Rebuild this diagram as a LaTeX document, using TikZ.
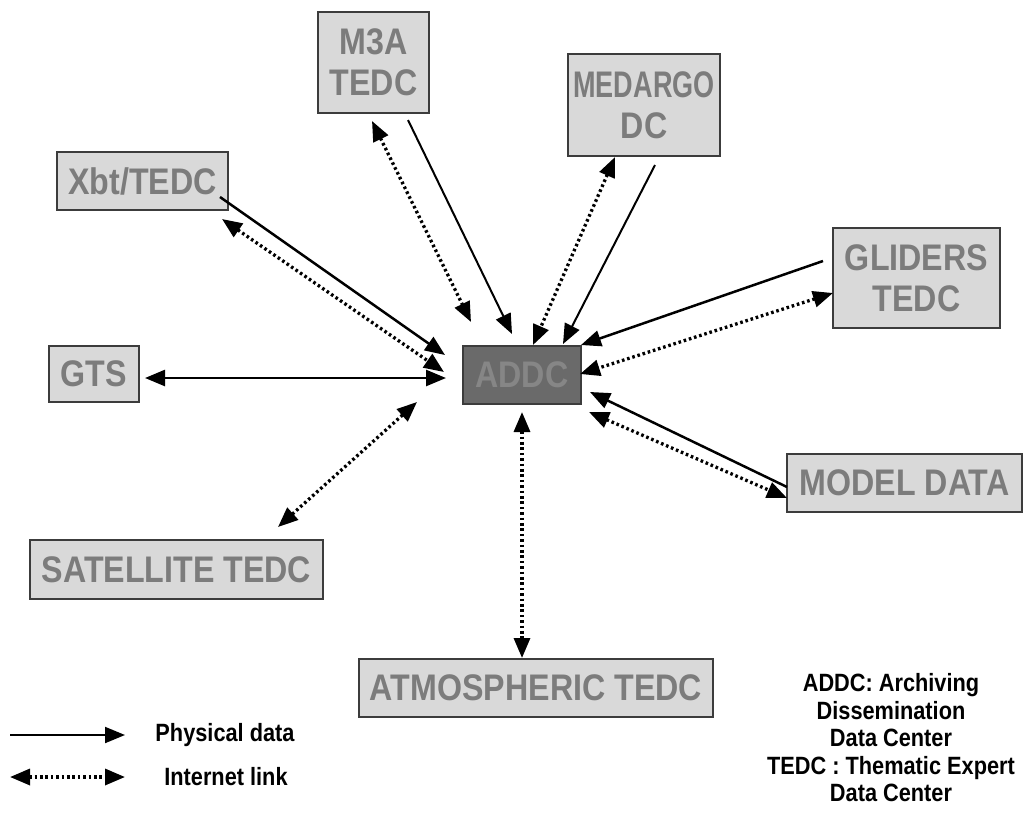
\documentclass[tikz,border=0pt]{standalone}
\usepackage{fontspec}
\usepackage{graphicx}
\usetikzlibrary{arrows.meta}
\newfontfamily\bxf[FakeStretch=0.87]{Liberation Sans}
\definecolor{boxfill}{HTML}{D9D9D9}
\definecolor{boxline}{HTML}{3C3C3C}
\definecolor{boxtext}{HTML}{7C7C7C}
\definecolor{addcfill}{HTML}{6A6A6A}
\definecolor{addctext}{HTML}{868686}
\tikzset{
  box/.style={draw=boxline, line width=2pt, fill=boxfill, text=boxtext,
    font=\bxf\bfseries\fontsize{37}{41}\selectfont, align=center, inner sep=0pt},
  centre/.style={box, fill=addcfill, text=addctext},
  legtext/.style={font=\bxf\bfseries\fontsize{25}{27.5}\selectfont, text=black, align=center, inner sep=0pt},
  tip/.style={Triangle[length=20pt,width=16pt]},
  phys/.style={line width=2.5pt, -{Triangle[length=20pt,width=16pt]}},
  physboth/.style={line width=2.5pt, {Triangle[length=20pt,width=16pt]}-{Triangle[length=20pt,width=16pt]}},
  net/.style={line width=3.3pt, dash pattern=on 2.6pt off 2.8pt,
    {Triangle[length=20pt,width=16pt]}-{Triangle[length=20pt,width=16pt]}}
}
\begin{document}
\begin{tikzpicture}[x=1pt,y=-1pt]
\useasboundingbox[fill=white] (0,0) rectangle (1023,812);
% boxes
\node[box, minimum width=111pt, minimum height=101pt] (m3a) at (373.5,62.5) {M3A\\TEDC};
\node[box, minimum width=152pt, minimum height=102pt] (medargo) at (644,105) {\scalebox{0.84}[1]{MEDARGO}\\DC};
\node[box, minimum width=171pt, minimum height=58pt] (xbt) at (142.5,181) {Xbt/TEDC};
\node[box, minimum width=90pt, minimum height=56pt] (gts) at (94,374) {GTS};
\node[centre, minimum width=118pt, minimum height=58pt] (addc) at (522,375) {ADDC};
\node[box, minimum width=167pt, minimum height=100pt] (gliders) at (916.5,278) {GLIDERS\\TEDC};
\node[box, minimum width=235pt, minimum height=58pt] (model) at (904.5,483) {MODEL DATA};
\node[box, minimum width=293pt, minimum height=59pt] (sat) at (176.5,569.5) {SATELLITE TEDC};
\node[box, minimum width=354pt, minimum height=58pt] (atm) at (536,688) {ATMOSPHERIC TEDC};
% connector end points
\coordinate (xbtA) at (220,197);   \coordinate (addcA) at (445,355);
\coordinate (xbtB) at (222,219);   \coordinate (addcB) at (444,372);
\coordinate (gtsC) at (145,378);   \coordinate (addcC) at (446,378);
\coordinate (satD) at (278,527);   \coordinate (addcD) at (417,402);
\coordinate (addcE) at (522,412);  \coordinate (atmE) at (522,658);
\coordinate (modelF) at (787,487); \coordinate (addcF) at (590,392);
\coordinate (addcG) at (589,412);  \coordinate (modelG) at (787,498);
\coordinate (glidH) at (823,261);  \coordinate (addcH) at (581,345);
\coordinate (glidI) at (833,293);  \coordinate (addcI) at (580,374);
\coordinate (medJ) at (655,165);   \coordinate (addcJ) at (563,344);
\coordinate (medK) at (615,157);   \coordinate (addcK) at (533,345);
\coordinate (m3aL) at (408,120);   \coordinate (addcL) at (512,334);
\coordinate (m3aM) at (372,121);   \coordinate (addcM) at (471,322);
% connectors
\draw[phys] (xbtA) -- (addcA);
\draw[net] (xbtB) -- (addcB);
\draw[physboth] (gtsC) -- (addcC);
\draw[net] (satD) -- (addcD);
\draw[net] (addcE) -- (atmE);
\draw[phys] (modelF) -- (addcF);
\draw[net] (addcG) -- (modelG);
\draw[phys] (glidH) -- (addcH);
\draw[net] (glidI) -- (addcI);
\draw[phys, line width=2pt] (medJ) -- (addcJ);
\draw[net] (medK) -- (addcK);
\draw[phys, line width=2pt] (m3aL) -- (addcL);
\draw[net] (m3aM) -- (addcM);
% legend
\coordinate (lpA) at (10,735); \coordinate (lpB) at (125,735);
\coordinate (liA) at (10,777); \coordinate (liB) at (125,777);
\draw[phys, line width=2pt] (lpA) -- (lpB);
\draw[net] (liA) -- (liB);
\node[legtext] (lphys) at (225,735) {Physical data};
\node[legtext] (lnet) at (226,777) {Internet link};
\node[legtext] (notes) at (891,738) {ADDC: Archiving\\Dissemination\\Data Center\\TEDC : Thematic Expert\\Data Center};
\end{tikzpicture}
\end{document}
